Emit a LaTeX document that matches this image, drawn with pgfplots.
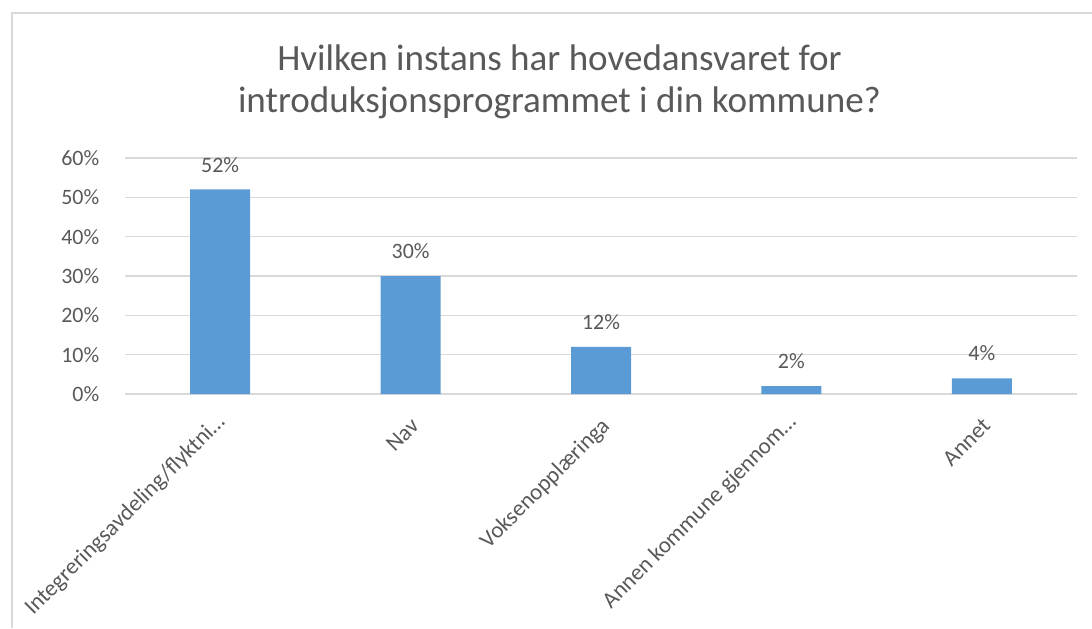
\documentclass[border=0pt]{standalone}
\usepackage{pgfplots}
\pgfplotsset{compat=1.18}
\usepackage{fontspec}
\setmainfont{Carlito}
\definecolor{barblue}{HTML}{5B9BD5}
\definecolor{txt}{HTML}{595959}
\definecolor{gridgray}{HTML}{D9D9D9}
\newcommand{\trunc}[1]{\raisebox{2.3pt}[0pt][0pt]{#1}\hspace{-6.4pt}}
\begin{document}
\begin{tikzpicture}
\path[use as bounding box] (0pt,0pt) rectangle (447.72pt,-257.48pt);
\draw[gridgray, line width=0.6pt] (4.92pt,-257.48pt) -- (4.92pt,-5.33pt) -- (447.72pt,-5.33pt);
\node[anchor=base, text=txt, font=\fontsize{15.2}{18}\selectfont] at (229.4pt,-28.7pt) {Hvilken instans har hovedansvaret for};
\node[anchor=base, text=txt, font=\fontsize{15.2}{18}\selectfont] at (229.4pt,-46.3pt) {introduksjonsprogrammet i din kommune?};
\begin{axis}[
  at={(51.25pt,-161.54pt)}, anchor=south west,
  scale only axis, width=390.32pt, height=96.76pt,
  xmin=-0.5, xmax=4.5, ymin=0, ymax=60,
  ytick={0,10,...,60},
  /pgf/number format/assume math mode=true,
  yticklabel={\pgfmathprintnumber{\tick}\%},
  yticklabel style={xshift=-7pt},
  xtick=data,
  xticklabels={\trunc{Integreringsavdeling/flyktni…}, Nav, Voksenopplæringa, \trunc{Annen kommune gjennom…}, Annet},
  tick label style={text=txt, font=\fontsize{9}{11}\selectfont},
  xticklabel style={xshift=4.1pt, yshift=-13.5pt, rotate=45, anchor=base east, inner sep=0pt, font=\fontsize{9.4}{11}\selectfont},
  major tick length=0pt,
  axis line style={draw=none},
  xmajorgrids=false, ymajorgrids=true, grid style={draw=gridgray, line width=0.6pt},
  ybar, bar width=24.6pt,
  nodes near coords={\pgfmathprintnumber{\pgfplotspointmeta}\%},
  nodes near coords style={text=txt, font=\fontsize{9}{11}\selectfont, anchor=south, yshift=3.5pt},
  clip=false,
]
\addplot[fill=barblue, draw=none] coordinates {(0,52) (1,30) (2,12) (3,2) (4,4)};
\end{axis}
\end{tikzpicture}
\end{document}
